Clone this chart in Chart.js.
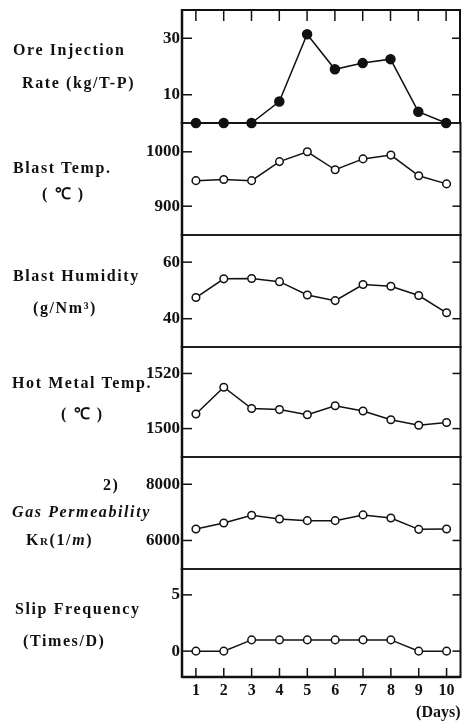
<!DOCTYPE html>
<html>
<head>
<meta charset="utf-8">
<script src="https://cdn.jsdelivr.net/npm/chart.js@4"></script>
<style>
  body { margin: 0; background: #fff; width: 466px; height: 722px; position: relative; overflow: hidden; }
  .panel { position: absolute; left: 0; }
  .lbl { position: absolute; font: bold 16px "Liberation Serif", serif; letter-spacing: 1.6px; color: #111; white-space: nowrap; line-height: 18px; }
</style>
</head>
<body>
<script>
const days = ['1', '2', '3', '4', '5', '6', '7', '8', '9', '10'];

// values
const oreRate      = [0, 0, 0, 7.6, 31.4, 19, 21.2, 22.6, 4, 0];
const blastTemp    = [947, 949, 947, 982, 1000, 967, 987, 994, 956, 941];
const blastHum     = [47.5, 54.1, 54.2, 53.1, 48.4, 46.4, 52.1, 51.5, 48.2, 42.1];
const hotMetalTemp = [1505.3, 1515, 1507.3, 1506.9, 1505, 1508.3, 1506.4, 1503.2, 1501.2, 1502.2];
const gasPerm      = [6406, 6622, 6898, 6766, 6706, 6706, 6910, 6802, 6395, 6406];
const slipFreq     = [0, 0, 1, 1, 1, 1, 1, 1, 0, 0];

// tick labels per panel
const oreTicks  = [10, 30];
const tempTicks = [900, 1000];
const humTicks  = [40, 60];
const hmtTicks  = [1500, 1520];
const gasTicks  = [6000, 8000];
const slipTicks = [0, 5];

const INK = '#111';
const SERIF = '"Liberation Serif", "DejaVu Serif", serif';
const edges = [10, 123, 235, 347, 457, 569, 677];
const PAD = 14;

const panels = [
  { data: oreRate,      ticks: oreTicks,  min: 0,      max: 40,     filled: true },
  { data: blastTemp,    ticks: tempTicks, min: 847,    max: 1053 },
  { data: blastHum,     ticks: humTicks,  min: 30,     max: 69.6 },
  { data: hotMetalTemp, ticks: hmtTicks,  min: 1489.7, max: 1529.6 },
  { data: gasPerm,      ticks: gasTicks,  min: 4985,   max: 8970 },
  { data: slipFreq,     ticks: slipTicks, min: -2.3,   max: 7.3 }
];

// frame and inward tick marks
const frame = {
  id: 'frame',
  afterDatasetsDraw(chart, args, o) {
    const { ctx, chartArea: a, scales: { x, y } } = chart;
    const line = (x1, y1, x2, y2, w) => {
      ctx.lineWidth = w;
      ctx.beginPath(); ctx.moveTo(x1, y1); ctx.lineTo(x2, y2); ctx.stroke();
    };
    ctx.save();
    ctx.strokeStyle = INK;
    y.ticks.forEach(t => {
      const py = y.getPixelForValue(t.value);
      line(a.left, py, a.left + 10, py, 1.5);
      line(a.right - 8, py, a.right, py, 1.5);
    });
    days.forEach((d, i) => {
      const px = x.getPixelForValue(i);
      if (o.top) line(px, a.top, px, a.top + 11, 1.5);
      if (o.bottom) line(px, a.bottom - 9, px, a.bottom, 1.5);
    });
    line(a.left, a.top - 1, a.left, a.bottom + 1, 2.5);
    line(a.right, a.top - 1, a.right, a.bottom + 1, 2);
    line(a.left, a.top, a.right, a.top, o.top ? 2 : 1.5);
    line(a.left, a.bottom, a.right, a.bottom, o.bottom ? 2.5 : 1.5);
    ctx.restore();
  }
};

panels.forEach((p, i) => {
  const last = i === panels.length - 1;
  const top = edges[i] - PAD;
  const height = last ? 722 - top : edges[i + 1] - edges[i] + PAD * 2;
  const canvas = document.createElement('canvas');
  canvas.className = 'panel';
  canvas.style.top = top + 'px';
  canvas.width = 466;
  canvas.height = height;
  document.body.appendChild(canvas);

  new Chart(canvas, {
    type: 'line',
    data: {
      labels: days,
      datasets: [{
        data: p.data,
        borderColor: INK,
        borderWidth: 1.5,
        pointRadius: p.filled ? 4.5 : 3.8,
        pointBorderWidth: 1.5,
        pointBorderColor: INK,
        pointBackgroundColor: p.filled ? INK : '#fff',
        clip: false
      }]
    },
    options: {
      responsive: false,
      animation: false,
      layout: { padding: { top: PAD, bottom: last ? 0 : PAD, left: 0, right: 3 } },
      plugins: {
        legend: { display: false },
        tooltip: { enabled: false },
        frame: { top: i === 0, bottom: last }
      },
      scales: {
        x: {
          type: 'category',
          offset: true,
          display: last,
          grid: { display: false, drawTicks: false },
          border: { display: false },
          ticks: { color: INK, font: { family: SERIF, size: 16, weight: 'bold' }, padding: 4, maxRotation: 0, autoSkip: false },
          title: { display: last, text: '(Days)', align: 'end', color: INK, font: { family: SERIF, size: 16, weight: 'bold' }, padding: 0 },
          afterFit: s => { if (last) s.height = 45; }
        },
        y: {
          min: p.min,
          max: p.max,
          grid: { display: false, drawTicks: false },
          border: { display: false },
          ticks: { color: INK, font: { family: SERIF, size: 17, weight: 'bold' }, padding: 2, callback: v => String(v) },
          afterBuildTicks: s => { s.ticks = p.ticks.map(v => ({ value: v })); },
          afterFit: s => { s.width = 182; }
        }
      }
    },
    plugins: [frame]
  });
});

// left-hand panel captions
const captions = [
  { html: 'Ore Injection', x: 13, y: 50 },
  { html: 'Rate (kg/T-P)', x: 22, y: 83 },
  { html: 'Blast Temp.', x: 13, y: 168 },
  { html: '( ℃ )', x: 42, y: 194 },
  { html: 'Blast Humidity', x: 13, y: 276 },
  { html: '(g/Nm³)', x: 33, y: 308 },
  { html: 'Hot Metal Temp.', x: 12, y: 383 },
  { html: '( ℃ )', x: 61, y: 414 },
  { html: '2)', x: 103, y: 485 },
  { html: '<i>Gas Permeability</i>', x: 12, y: 512 },
  { html: 'K<span style="font-size:11px">R</span>(1/<i>m</i>)', x: 26, y: 540 },
  { html: 'Slip Frequency', x: 15, y: 609 },
  { html: '(Times/D)', x: 23, y: 641 }
];
captions.forEach(c => {
  const d = document.createElement('div');
  d.className = 'lbl';
  d.innerHTML = c.html;
  d.style.left = c.x + 'px';
  d.style.top = (c.y - 9) + 'px';
  document.body.appendChild(d);
});
</script>
</body>
</html>
